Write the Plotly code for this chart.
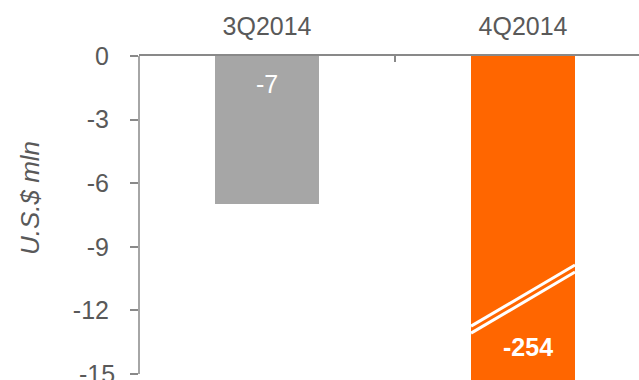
import plotly.graph_objects as go

# Quarterly result, U.S.$ mln
quarters = ["3Q2014", "4Q2014"]
values = [-7, -254]
bar_colors = ["#A6A6A6", "#FF6600"]
y_ticks = [0, -3, -6, -9, -12, -15]

FONT = "Liberation Sans, Arial, sans-serif"
TEXT_GREY = "#595959"
AXIS_GREY = "#898989"
FS = 25

fig = go.Figure()
fig.add_trace(go.Bar(
    x=quarters, y=values, marker_color=bar_colors, marker_line_width=0,
    width=0.406, showlegend=False, hoverinfo="skip",
))

# value labels inside the bars
fig.add_annotation(x=quarters[0], y=-1.32, text=f"{values[0]}", showarrow=False,
                   font=dict(family=FONT, size=FS, color="white"))
fig.add_annotation(x=quarters[1], y=-13.73, xshift=5, text=f"<b>{values[1]}</b>", showarrow=False,
                   font=dict(family=FONT, size=FS, color="white"))

# scale-break marks across the clipped bar
for y_left, y_right in [(-12.74, -9.86), (-13.07, -10.19)]:
    fig.add_shape(type="line", xref="x", yref="y", x0=0.797, x1=1.203,
                  y0=y_left, y1=y_right, line=dict(color="white", width=3))

# vertical axis line from 0 down to -15
fig.add_shape(type="line", xref="paper", yref="y", x0=0, x1=0, y0=0, y1=y_ticks[-1],
              line=dict(color=AXIS_GREY, width=1.5))

# bottom tick label sits on the lower edge of the figure
fig.add_annotation(xref="paper", yref="y", x=0, y=y_ticks[-1], xanchor="right", xshift=-22,
                   text=str(y_ticks[-1]), showarrow=False,
                   font=dict(family=FONT, size=FS, color=TEXT_GREY))

# axis title
fig.add_annotation(xref="paper", yref="y", x=0, y=-6.7, xshift=-109,
                   xanchor="center", yanchor="middle", text="<i>U.S.$ mln</i>",
                   textangle=-90, showarrow=False,
                   font=dict(family=FONT, size=26, color=TEXT_GREY))

fig.update_layout(
    width=639, height=380,
    margin=dict(l=139, r=0, t=56, b=0),
    plot_bgcolor="white", paper_bgcolor="white",
    bargap=0,
    xaxis=dict(
        side="top", type="category", range=[-0.5, 1.453],
        showline=True, linecolor=AXIS_GREY, linewidth=1.5,
        ticks="inside", tickson="boundaries", ticklen=6, tickwidth=1.5, tickcolor=AXIS_GREY,
        tickfont=dict(family=FONT, size=FS, color=TEXT_GREY), ticklabelstandoff=9,
        showgrid=False, zeroline=False,
    ),
    yaxis=dict(
        range=[-15.28, 0], tickvals=y_ticks,
        ticktext=[str(v) for v in y_ticks[:-1]] + [""],
        showline=False, ticks="outside", ticklen=8, tickwidth=1.5, tickcolor=AXIS_GREY,
        tickfont=dict(family=FONT, size=FS, color=TEXT_GREY), ticklabelstandoff=16,
        showgrid=False, zeroline=False,
    ),
)

fig.write_html("out.html")
